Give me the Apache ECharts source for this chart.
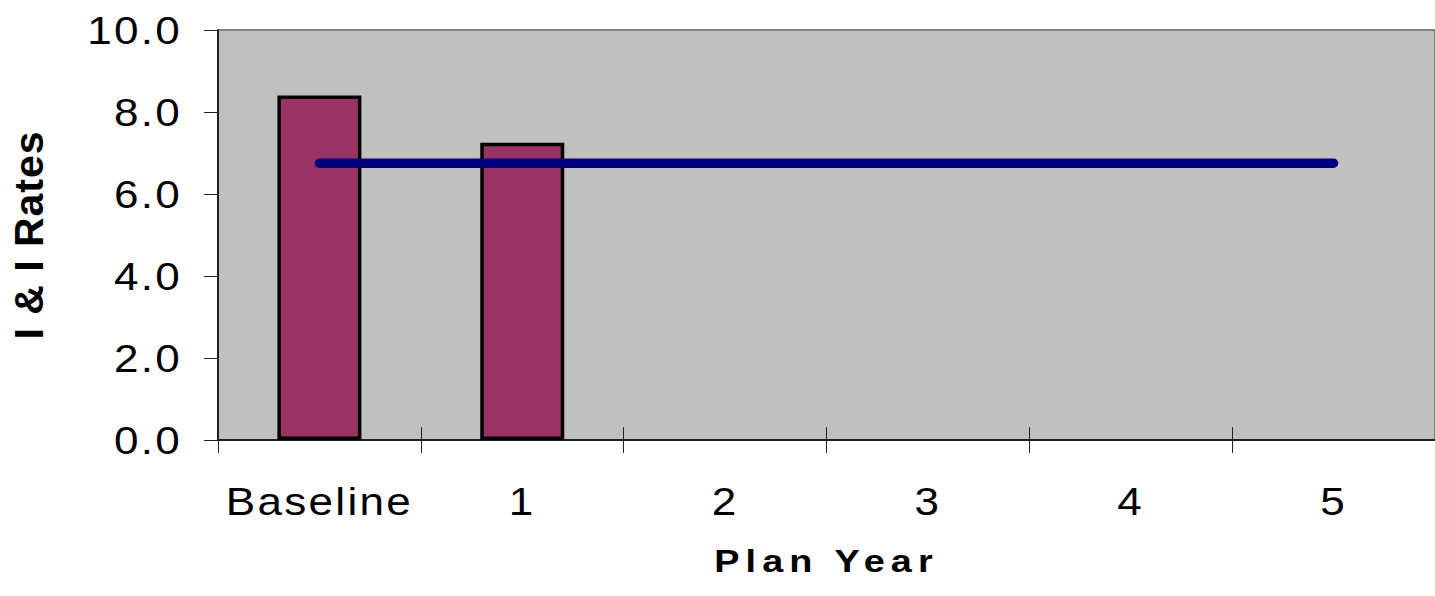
<!DOCTYPE html>
<html>
<head>
<meta charset="utf-8">
<script src="https://cdn.jsdelivr.net/npm/echarts@6/dist/echarts.min.js"></script>
<style>
html, body { margin: 0; padding: 0; background: #ffffff; }
#chart { width: 1435px; height: 596px; }
#chart text[style*="39px"] { letter-spacing: 2px; }
#chart text[style*="31px"] { letter-spacing: 5px; }
#chart text[style*="41px"] { letter-spacing: 1px; }
</style>
</head>
<body>
<div id="chart"></div>
<script>
const categories = ['Baseline', '1', '2', '3', '4', '5'];
const iiRates = [8.4, 7.25, null, null, null, null];
const goalRate = [6.75, 6.75, 6.75, 6.75, 6.75, 6.75];
const yMin = 0;
const yMax = 10;
const yStep = 2;
const xTitle = 'Plan Year';
const yTitle = 'I & I Rates';

const FONT = "'Liberation Sans', Arial, Helvetica, sans-serif";

const chart = echarts.init(document.getElementById('chart'), null, { renderer: 'svg' });
chart.setOption({
  animation: false,
  backgroundColor: '#ffffff',
  grid: {
    left: 216, top: 30, right: -5, bottom: 156,
    show: true, backgroundColor: '#C0C0C0',
    borderColor: '#808080', borderWidth: 2,
    containLabel: false
  },
  xAxis: [{
    type: 'category',
    data: categories,
    position: 'bottom',
    boundaryGap: true,
    name: xTitle,
    nameLocation: 'middle',
    nameGap: 106,
    nameTextStyle: { fontFamily: FONT, fontSize: 31, fontWeight: 'bold', color: '#000' },
    axisLine: { show: true, lineStyle: { color: '#000', width: 1.5 } },
    axisTick: { show: true, inside: false, length: 13, lineStyle: { color: '#222', width: 1 } },
    axisLabel: { fontFamily: FONT, fontSize: 39, color: '#000', margin: 42 },
    splitLine: { show: false }
  }, {
    type: 'category',
    data: categories,
    position: 'bottom',
    offset: 0,
    boundaryGap: true,
    axisLine: { show: false },
    axisTick: { show: true, inside: true, length: 13, lineStyle: { color: '#222', width: 1 } },
    axisLabel: { show: false },
    splitLine: { show: false }
  }],
  yAxis: {
    type: 'value',
    min: yMin, max: yMax, interval: yStep,
    name: yTitle,
    nameLocation: 'middle',
    nameGap: 169,
    nameRotate: 90,
    nameTextStyle: { fontFamily: FONT, fontSize: 41, fontWeight: 'bold', color: '#000' },
    axisLine: { show: true, lineStyle: { color: '#000', width: 1.5 } },
    axisTick: { show: true, inside: false, length: 14, lineStyle: { color: '#222', width: 1 } },
    axisLabel: {
      fontFamily: FONT, fontSize: 39, color: '#000', margin: 36,
      formatter: v => v.toFixed(1)
    },
    splitLine: { show: false }
  },
  series: [{
    type: 'bar',
    data: iiRates,
    barWidth: 84,
    itemStyle: { color: '#993366', borderColor: '#000', borderWidth: 3.5 },
    z: 2
  }, {
    type: 'line',
    data: goalRate,
    symbol: 'none',
    showSymbol: false,
    lineStyle: { color: '#000080', width: 9.5, cap: 'round' },
    z: 3
  }]
});

// The reference text is drawn horizontally widened; widen each label about its own anchor.
function widenTexts() {
  const svg = document.querySelector('#chart svg');
  if (!svg) return;
  svg.querySelectorAll('text').forEach(t => {
    if (t.getAttribute('data-widened')) return;
    const st = t.getAttribute('style') || '';
    let k = 0;
    if (st.indexOf('39px') >= 0) k = 1.13;
    else if (st.indexOf('31px') >= 0) k = 1.22;
    if (!k) return;
    const x = parseFloat(t.getAttribute('x') || '0');
    const y = parseFloat(t.getAttribute('y') || '0');
    const tr = t.getAttribute('transform') || '';
    t.setAttribute('transform', tr + ' translate(' + x + ' ' + y + ') scale(' + k + ' 1) translate(' + (-x) + ' ' + (-y) + ')');
    t.setAttribute('data-widened', '1');
  });
}
widenTexts();
chart.on('finished', widenTexts);
</script>
</body>
</html>
